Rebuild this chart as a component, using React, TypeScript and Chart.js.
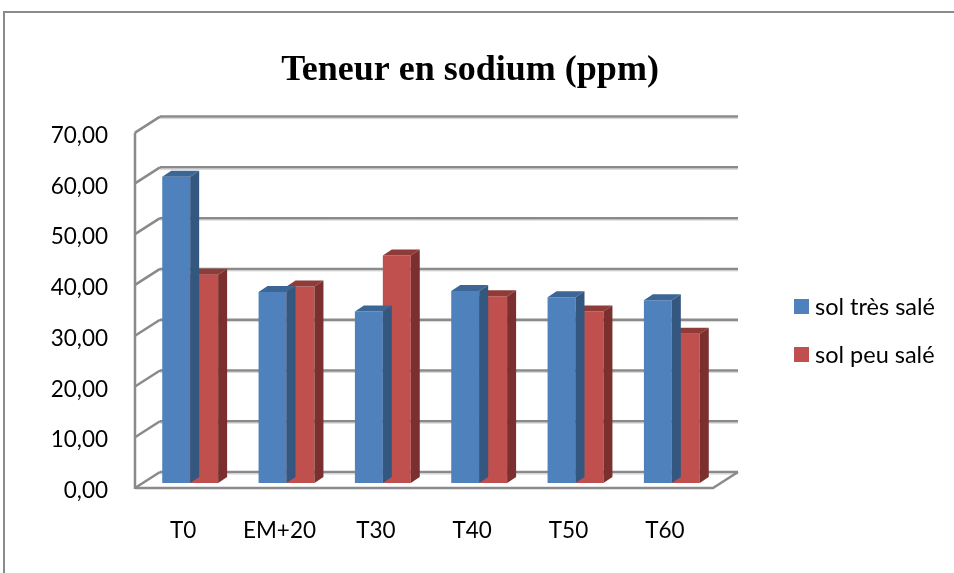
import React, { useEffect, useRef } from "react";
import { Chart, registerables } from "chart.js";

Chart.register(...registerables);

const categories = ["T0", "EM+20", "T30", "T40", "T50", "T60"];
const tresSale = [60.3, 37.6, 33.8, 37.8, 36.6, 36.0];
const peuSale = [41.0, 38.7, 44.8, 36.8, 33.8, 29.4];
const seriesNames = ["sol très salé", "sol peu salé"];
const yTicks = [0, 10, 20, 30, 40, 50, 60, 70];
const titleText = "Teneur en sodium (ppm)";

const FRONT = ["#4F81BD", "#C0504D"];
const TOP = ["#3C6696", "#8F3B38"];
const SIDE = ["#34577F", "#7B302F"];

// 3D projection parameters
const WALL_DX = 25;
const WALL_DY = -16;
const BAR_SHIFT_X = 7;
const BAR_SHIFT_Y = -5;
const BAR_DX = 9;
const BAR_DY = -6;
const GRID = "#8a8a8a";

const threeD = {
  id: "threeD",
  beforeDatasetsDraw(chart: any) {
    const { ctx, chartArea } = chart;
    const ys = chart.scales.y;
    const { left, right, top, bottom } = chartArea;
    ctx.save();
    ctx.lineCap = "butt";
    const line = (x1: number, y1: number, x2: number, y2: number) => {
      ctx.beginPath();
      ctx.moveTo(x1, y1);
      ctx.lineTo(x2, y2);
      ctx.stroke();
    };
    // light shadow under back gridlines
    ctx.lineWidth = 1;
    ctx.strokeStyle = "#d6d6d6";
    yTicks.forEach((v) => {
      const y = ys.getPixelForValue(v) + WALL_DY + 2;
      line(left + WALL_DX, y, right + WALL_DX, y);
    });
    ctx.lineWidth = 2.5;
    ctx.strokeStyle = GRID;
    // back wall gridlines + diagonal connectors
    yTicks.forEach((v) => {
      const y = ys.getPixelForValue(v);
      line(left + WALL_DX, y + WALL_DY, right + WALL_DX, y + WALL_DY);
      line(left, y, left + WALL_DX, y + WALL_DY);
    });
    // left front axis line
    line(left, top, left, bottom + 1);
    // floor
    ctx.beginPath();
    ctx.moveTo(left, bottom);
    ctx.lineTo(right, bottom);
    ctx.lineTo(right + WALL_DX, bottom + WALL_DY);
    ctx.stroke();
    ctx.restore();

    ctx.save();
    ctx.translate(BAR_SHIFT_X, BAR_SHIFT_Y);
  },
  afterDatasetDraw(chart: any, args: any) {
    const { ctx } = chart;
    const i = args.index;
    args.meta.data.forEach((bar: any) => {
      const x0 = bar.x - bar.width / 2;
      const x1 = bar.x + bar.width / 2;
      const yt = bar.y;
      const yb = bar.base;
      ctx.fillStyle = TOP[i];
      ctx.beginPath();
      ctx.moveTo(x0, yt);
      ctx.lineTo(x1, yt);
      ctx.lineTo(x1 + BAR_DX, yt + BAR_DY);
      ctx.lineTo(x0 + BAR_DX, yt + BAR_DY);
      ctx.closePath();
      ctx.fill();
      ctx.fillStyle = SIDE[i];
      ctx.beginPath();
      ctx.moveTo(x1, yt);
      ctx.lineTo(x1 + BAR_DX, yt + BAR_DY);
      ctx.lineTo(x1 + BAR_DX, yb + BAR_DY);
      ctx.lineTo(x1, yb);
      ctx.closePath();
      ctx.fill();
    });
  },
  afterDatasetsDraw(chart: any) {
    chart.ctx.restore();
  },
  afterDraw(chart: any) {
    const { ctx } = chart;
    ctx.save();
    // chart border (top and left visible)
    ctx.strokeStyle = "#8a8a8a";
    ctx.lineWidth = 2;
    ctx.beginPath();
    ctx.moveTo(4, 600);
    ctx.lineTo(4, 12);
    ctx.lineTo(980, 12);
    ctx.stroke();
    // legend
    ctx.font = "23.5px Lato";
    ctx.textBaseline = "middle";
    ctx.textAlign = "left";
    chart.data.datasets.forEach((ds: any, k: number) => {
      const cy = 306.5 + k * 48;
      ctx.fillStyle = ds.backgroundColor;
      ctx.fillRect(794, cy - 7.5, 15, 15);
      ctx.fillStyle = "#000";
      ctx.fillText(ds.label, 815, cy + 1);
    });
    ctx.restore();
  },
};

export default function App() {
  const ref = useRef<HTMLCanvasElement>(null);
  useEffect(() => {
    const chart = new Chart(ref.current!, {
      type: "bar",
      data: {
        labels: categories,
        datasets: [
          { label: seriesNames[0], data: tresSale, backgroundColor: FRONT[0], clip: false as any },
          { label: seriesNames[1], data: peuSale, backgroundColor: FRONT[1], clip: false as any },
        ],
      },
      options: {
        responsive: false,
        animation: false,
        events: [],
        layout: { padding: { left: 0, right: 14, top: 0, bottom: 0 } },
        datasets: { bar: { categoryPercentage: 0.58, barPercentage: 1 } },
        plugins: {
          legend: { display: false },
          tooltip: { enabled: false },
          title: {
            display: true,
            text: titleText,
            color: "#000",
            font: { family: "'Liberation Serif', 'Times New Roman', serif", size: 36, weight: "bold", lineHeight: 1.2 },
            padding: { top: 49, bottom: 40.4 },
          },
        },
        scales: {
          x: {
            grid: { display: false, drawTicks: false },
            border: { display: false },
            ticks: { color: "#000", font: { family: "Lato", size: 22.5 }, padding: 29, maxRotation: 0 },
            afterFit: (s: any) => { s.height = 85; },
          },
          y: {
            min: 0,
            max: 70,
            grid: { display: false, drawTicks: false },
            border: { display: false },
            ticks: {
              stepSize: 10,
              color: "#000",
              font: { family: "Lato", size: 22.5 },
              padding: 27,
              labelOffset: 3,
              callback: (v: any) => Number(v).toFixed(2).replace(".", ","),
            },
            afterFit: (s: any) => { s.width = 135; },
          },
          legendSpace: {
            type: "linear",
            position: "right",
            display: true,
            grid: { display: false, drawTicks: false },
            border: { display: false },
            ticks: { display: false },
            afterFit: (s: any) => { s.width = 227; },
          },
        },
      },
      plugins: [threeD],
    });
    return () => chart.destroy();
  }, []);
  return (
    <div style={{ position: "fixed", left: 0, top: 0, width: 954, height: 573, background: "#fff" }}>
      <canvas ref={ref} width={954} height={573} style={{ display: "block" }} />
    </div>
  );
}
